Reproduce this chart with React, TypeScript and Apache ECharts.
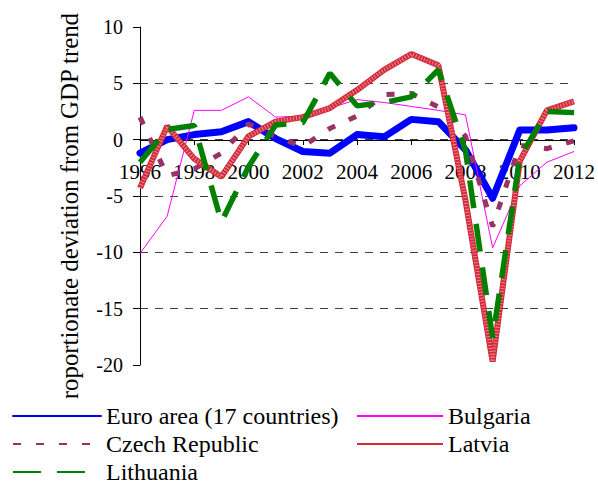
import React, { useEffect, useRef } from 'react';
import * as echarts from 'echarts';

const years = ['1996', '1997', '1998', '1999', '2000', '2001', '2002', '2003', '2004', '2005', '2006', '2007', '2008', '2009', '2010', '2011', '2012'];
const euroArea = [-1.2, 0.0, 0.45, 0.7, 1.6, 0.1, -1.05, -1.2, 0.45, 0.25, 1.8, 1.6, -0.9, -5.2, 0.85, 0.85, 1.05];
const bulgaria = [-10.1, -6.8, 2.6, 2.6, 3.8, 2.0, 2.1, 2.8, 3.55, 3.3, 2.95, 2.6, 2.2, -9.6, -4.1, -2.0, -1.05];
const czechRepublic = [2.0, -3.2, -2.6, -1.2, 1.4, 0.25, -0.6, 1.0, 2.1, 4.0, 4.1, 2.9, 0.3, -7.7, -0.5, -0.8, -0.1];
const latvia = [-4.3, 1.2, -1.7, -3.3, 0.3, 1.6, 2.0, 2.8, 4.4, 6.2, 7.6, 6.6, -5.4, -19.7, -1.9, 2.6, 3.4];
const lithuania = [-2.0, 0.9, 1.25, -7.3, -2.4, 1.3, 1.5, 5.9, 3.0, 3.3, 3.8, 6.2, -1.0, -17.6, -1.6, 2.5, 2.4];

const yTitle = 'Proportionate deviation from GDP trend';
const FONT = 'Times New Roman';

export default function App() {
  const ref = useRef<HTMLDivElement>(null);
  useEffect(() => {
    const chart = echarts.init(ref.current!, null, { renderer: 'svg' });
    const legendItem = (name: string, left: number, top: number, width: number) => ({
      orient: 'horizontal',
      left,
      top,
      itemWidth: width,
      itemHeight: 2,
      itemGap: 0,
      padding: 5,
      backgroundColor: '#ffffff',
      itemStyle: { opacity: 0 },
      textStyle: { fontSize: 24, fontFamily: FONT, color: '#000', lineHeight: 20 },
      data: [name],
    });
    chart.setOption({
      animation: false,
      backgroundColor: '#ffffff',
      textStyle: { fontFamily: FONT },
      grid: { left: 140, right: 21, top: 27, bottom: 118, containLabel: false },
      xAxis: {
        type: 'category',
        data: years,
        boundaryGap: false,
        position: 'bottom',
        offset: -225,
        z: 3,
        axisLine: { show: true, onZero: false, lineStyle: { color: '#000', width: 1 } },
        axisTick: { show: true, interval: 1, length: 5, inside: false, lineStyle: { color: '#000' } },
        axisLabel: { interval: 1, margin: 21, fontSize: 21, fontFamily: FONT, color: '#000' },
        splitLine: { show: false },
      },
      yAxis: {
        type: 'value',
        min: -20,
        max: 10,
        interval: 5,
        axisLine: { show: true, lineStyle: { color: '#000', width: 1 } },
        axisTick: { show: true, length: 7, lineStyle: { color: '#000' } },
        axisLabel: { margin: 17, fontSize: 20, fontFamily: FONT, color: '#000' },
        splitLine: {
          show: true,
          showMinLine: false,
          showMaxLine: false,
          lineStyle: { color: '#404040', width: 1, type: [8, 7] },
        },
      },
      legend: [
        legendItem('Euro area (17 countries)', 7, 399, 88),
        legendItem('Czech Republic', 7, 427, 88),
        legendItem('Lithuania', 7, 455, 88),
        legendItem('Bulgaria', 351, 399, 86),
        legendItem('Latvia', 351, 427, 86),
      ],
      graphic: [
        {
          type: 'text',
          x: 69,
          y: 213,
          rotation: Math.PI / 2,
          z: 0,
          style: {
            text: yTitle,
            fontSize: 24.8,
            fontFamily: FONT,
            fill: '#000',
            textAlign: 'center',
            textVerticalAlign: 'middle',
          },
        },
        {
          type: 'rect',
          z: 1,
          shape: { x: 50, y: 398.5, width: 40, height: 20 },
          style: { fill: '#ffffff' },
        },
      ],
      series: [
        {
          name: 'Euro area (17 countries)',
          type: 'line',
          data: euroArea,
          symbol: 'none',
          lineStyle: { color: '#0000ff', width: 7, cap: 'round', join: 'round' },
          itemStyle: { color: '#0000ff' },
        },
        {
          name: 'Bulgaria',
          type: 'line',
          data: bulgaria,
          symbol: 'none',
          lineStyle: { color: '#ff00ff', width: 1 },
          itemStyle: { color: '#ff00ff' },
        },
        {
          name: 'Czech Republic',
          type: 'line',
          data: czechRepublic,
          symbol: 'none',
          lineStyle: { color: '#993366', width: 5, type: [8, 15] },
          itemStyle: { color: '#993366' },
        },
        {
          name: 'Latvia',
          type: 'line',
          data: latvia,
          symbol: 'none',
          lineStyle: { color: '#d42a3a', width: 6 },
          itemStyle: { color: '#d42a3a' },
        },
        {
          name: 'Latvia texture',
          type: 'line',
          data: latvia,
          symbol: 'none',
          silent: true,
          lineStyle: { color: 'rgba(255,255,255,0.45)', width: 4, type: [1, 2] },
        },
        {
          name: 'Lithuania',
          type: 'line',
          data: lithuania,
          symbol: 'none',
          lineStyle: { color: '#008000', width: 5.5, type: [28, 16] },
          itemStyle: { color: '#008000' },
        },
      ],
    });
    return () => chart.dispose();
  }, []);
  return <div ref={ref} style={{ position: 'absolute', left: 0, top: 0, width: 598, height: 483 }} />;
}
